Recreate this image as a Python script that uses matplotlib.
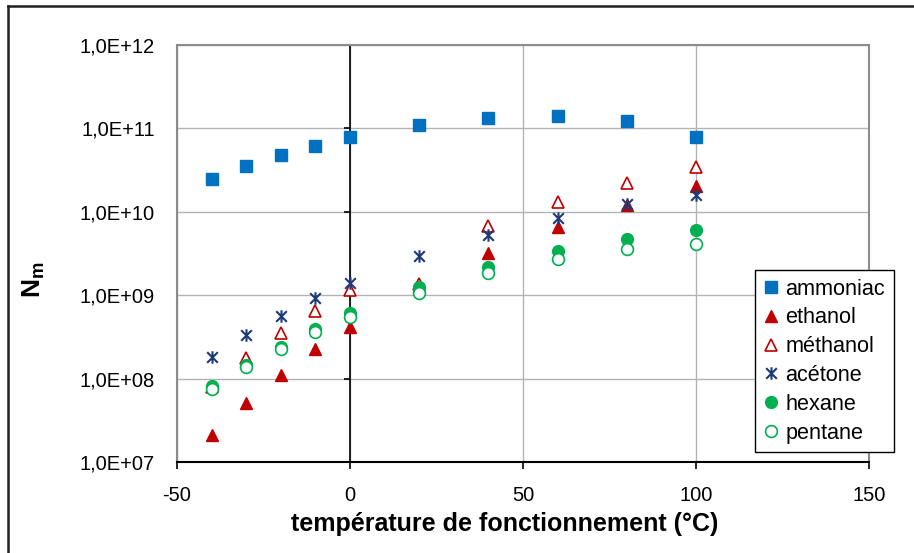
import numpy as np
import matplotlib.pyplot as plt
from matplotlib.path import Path
from matplotlib.lines import Line2D

plt.rcParams['font.family'] = ['Liberation Sans', 'DejaVu Sans']
plt.rcParams['mathtext.fontset'] = 'custom'
plt.rcParams['mathtext.bf'] = 'Liberation Sans:bold'
plt.rcParams['mathtext.rm'] = 'Liberation Sans'

# Data
temp = [-40, -30, -20, -10, 0, 20, 40, 60, 80, 100]
ammoniac = [2.47e10, 3.5e10, 4.8e10, 6.1e10, 7.9e10, 1.1e11, 1.33e11, 1.41e11, 1.22e11, 7.8e10]
ethanol = [2.1e7, 5.05e7, 1.1e8, 2.24e8, 4.2e8, 1.3e9, 3.2e9, 6.5e9, 1.2e10, 2.05e10]
methanol = [8.0e7, 1.75e8, 3.5e8, 6.5e8, 1.15e9, 1.35e9, 6.8e9, 1.32e10, 2.23e10, 3.47e10]
acetone = [1.83e8, 3.33e8, 5.7e8, 9.2e8, 1.41e9, 2.98e9, 5.27e9, 8.4e9, 1.23e10, 1.59e10]
hexane = [8.1e7, 1.46e8, 2.41e8, 3.9e8, 6.07e8, 1.24e9, 2.2e9, 3.39e9, 4.68e9, 6.05e9]
pentane = [7.5e7, 1.36e8, 2.24e8, 3.59e8, 5.43e8, 1.05e9, 1.83e9, 2.69e9, 3.55e9, 4.11e9]

xticks = [-50, 0, 50, 100, 150]
ydecades = [1e7, 1e8, 1e9, 1e10, 1e11, 1e12]
ylabels = ['1,0E+07', '1,0E+08', '1,0E+09', '1,0E+10', '1,0E+11', '1,0E+12']

# excel-like star marker: vertical bar + X
star = Path([(0, -1), (0, 1), (-0.85, -0.85), (0.85, 0.85), (-0.85, 0.85), (0.85, -0.85)],
            [Path.MOVETO, Path.LINETO, Path.MOVETO, Path.LINETO, Path.MOVETO, Path.LINETO])

fig = plt.figure(figsize=(9.14, 5.53), dpi=100)
ax = fig.add_axes([177/914, 1 - 462/553, 692/914, 417/553])

ax.set_yscale('log')
ax.set_xlim(-50, 150)
ax.set_ylim(1e7, 1e12)

ms = 8.5
ax.plot(temp, ammoniac, 's', color='#0070C0', ms=ms, label='ammoniac', zorder=3)
ax.plot(temp, ethanol, '^', color='#C00000', ms=ms, label='ethanol', zorder=3)
ax.plot(temp, methanol, '^', mfc='white', mec='#C00000', mew=1.2, ms=ms, label='méthanol', zorder=3)
ax.plot(temp, acetone, linestyle='none', marker=star, mfc='none', mec='#1F3A78', mew=1.5, ms=9, label='acétone', zorder=3)
ax.plot(temp, hexane, 'o', color='#00B050', ms=ms, label='hexane', zorder=3)
ax.plot(temp, pentane, 'o', mfc='white', mec='#00B050', mew=1.2, ms=ms, label='pentane', zorder=3)

# gridlines
for y in ydecades:
    ax.axhline(y, color='#b3b3b3', lw=1, zorder=1)
for x in xticks:
    ax.axvline(x, color='#b3b3b3', lw=1, zorder=1)

# vertical axis crossing at 0 with its tick marks
ax.axvline(0, color='black', lw=1.2, zorder=2)
ax.plot([0] * len(ydecades), ydecades, linestyle='none', marker=0, ms=4.5, mew=1.2,
        color='black', zorder=2, clip_on=False)

ax.set_xticks(xticks)
ax.set_xticklabels(['-50', '0', '50', '100', '150'])
ax.set_yticks(ydecades)
ax.set_yticklabels(ylabels)
ax.yaxis.set_minor_locator(plt.NullLocator())
ax.tick_params(axis='x', direction='out', length=5, width=1.2, color='black', pad=12, labelsize=14.5)
ax.tick_params(axis='y', length=0, pad=16, labelsize=14.5)

for s in ['left', 'top', 'right']:
    ax.spines[s].set_color('#8c8c8c')
    ax.spines[s].set_linewidth(1.5)
ax.spines['bottom'].set_color('black')
ax.spines['bottom'].set_linewidth(1.5)

fig.text(505/914, 1 - 524/553, 'température de fonctionnement (°C)', ha='center', va='center',
         fontsize=18, fontweight='bold')
fig.text(34/914, 1 - 280/553, r'$\mathbf{N}_\mathbf{m}$', ha='center', va='center',
         fontsize=19, rotation=90)

leg = ax.legend(loc='upper left', bbox_to_anchor=(755/914, 1 - 270/553), bbox_transform=fig.transFigure,
                fontsize=15.6, frameon=True, fancybox=False, edgecolor='black', framealpha=1,
                handlelength=0.7, handletextpad=0.3, labelspacing=0.36, borderpad=0.4,
                borderaxespad=0)
leg.get_frame().set_linewidth(1)
leg.set_zorder(5)

# chart area border (top and left visible)
fig.add_artist(Line2D([8/914, 8/914], [0, 1 - 6/553], color='#202020', lw=1.8))
fig.add_artist(Line2D([8/914, 1], [1 - 6/553, 1 - 6/553], color='#202020', lw=1.8))

fig.savefig('out.png', dpi=100)
